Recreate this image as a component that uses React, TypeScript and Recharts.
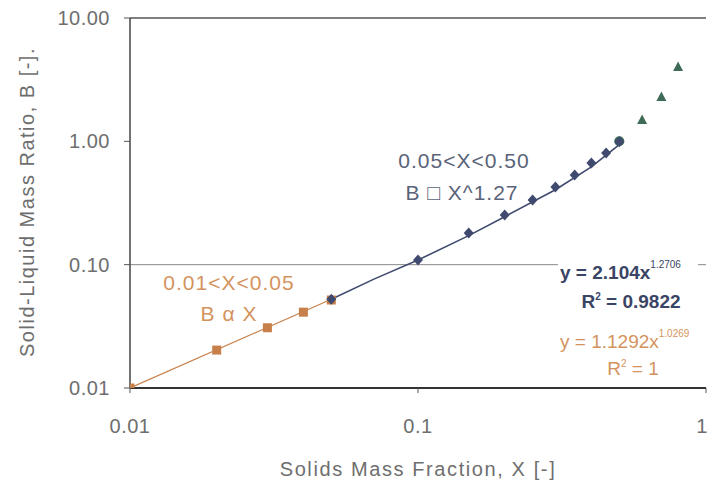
import { ScatterChart, Scatter, XAxis, YAxis, ReferenceLine } from 'recharts'

// solids mass fraction X vs solid-liquid mass ratio B
const lowX = [0.01, 0.02, 0.03, 0.04, 0.05]
const lowB = [0.0100, 0.0203, 0.0308, 0.0412, 0.0517]

const midX = [0.05, 0.1, 0.15, 0.2, 0.25, 0.3, 0.35, 0.4, 0.45, 0.5]
const midB = [0.0525, 0.109, 0.181, 0.253, 0.335, 0.427, 0.534, 0.668, 0.805, 0.99]

const highX = [0.6, 0.7, 0.8]
const highB = [1.49, 2.29, 4.01]

const edgeX = [0.5]
const edgeB = [1.0]

// trend lines
const lowTrendX = [0.01, 0.05]
const lowTrendB = [0.0100, 0.0525]
const midTrendX = [0.05, 0.07, 0.1, 0.15, 0.2, 0.3, 0.4, 0.5]
const midTrendB = [0.0525, 0.076, 0.109, 0.172, 0.245, 0.405, 0.62, 0.94]

const xTicks = [0.01, 0.1, 1]
const xTickLabels = ['0.01', '0.1', '1']
const yTicks = [0.01, 0.1, 1, 10]
const yTickLabels = ['0.01', '0.10', '1.00', '10.00']

const zip = (xs: number[], ys: number[]) => xs.map((x, i) => ({ x, y: ys[i] }))

const ORANGE = '#c8804a'
const BLUE = '#3f4a6e'
const GREEN = '#3e6b56'
const TICK = '#6e6e6e'
const FONT = 'Liberation Sans, Arial, sans-serif'

const square = (p: any) => <rect x={p.cx - 4.5} y={p.cy - 4.5} width={9} height={9} fill={ORANGE} />
const diamond = (p: any) => (
  <polygon points={`${p.cx},${p.cy - 5.5} ${p.cx + 5},${p.cy} ${p.cx},${p.cy + 5.5} ${p.cx - 5},${p.cy}`} fill={BLUE} />
)
const triangle = (p: any) => (
  <polygon points={`${p.cx},${p.cy - 5.5} ${p.cx + 5},${p.cy + 4} ${p.cx - 5},${p.cy + 4}`} fill={GREEN} />
)
const dot = (p: any) => <circle cx={p.cx} cy={p.cy} r={5} fill={GREEN} />
const none = () => <g />

const XTick = (p: any) => {
  const i = xTicks.indexOf(p.payload.value)
  const shift = i === xTicks.length - 1 ? -4 : 0
  return (
    <text x={p.x + shift} y={p.y} dy="0.71em" textAnchor="middle" fill={TICK} fontSize={20} fontFamily={FONT} letterSpacing={0.5}>
      {xTickLabels[i] ?? ''}
    </text>
  )
}

export default function App() {
  return (
    <div style={{ position: 'absolute', left: 0, top: 0, width: 709, height: 483, background: '#fff', fontFamily: FONT }}>
      <ScatterChart width={709} height={483} margin={{ top: 18, right: 3, left: 0, bottom: 0 }}>
        <XAxis
          type="number"
          dataKey="x"
          scale="log"
          domain={[0.01, 1]}
          ticks={xTicks}
          interval={0}
          allowDataOverflow
          height={95}
          tickSize={5}
          tickMargin={26}
          tick={XTick}
          axisLine={{ stroke: '#333', strokeWidth: 2 }}
          tickLine={{ stroke: '#555' }}
        />
        <YAxis
          type="number"
          dataKey="y"
          scale="log"
          domain={[0.01, 10]}
          ticks={yTicks}
          interval={0}
          allowDataOverflow
          width={130}
          tickSize={6}
          tickMargin={14}
          tickFormatter={(v: number) => yTickLabels[yTicks.indexOf(v)] ?? ''}
          tick={{ fill: TICK, fontSize: 20, fontFamily: FONT, letterSpacing: 0.5 }}
          axisLine={{ stroke: '#444', strokeWidth: 1.5 }}
          tickLine={{ stroke: '#555' }}
        />
        <ReferenceLine y={10} stroke="#555" strokeWidth={1.5} />
        <ReferenceLine y={0.1} stroke="#888" strokeWidth={1} />
        <Scatter data={zip(lowTrendX, lowTrendB)} line={{ stroke: ORANGE, strokeWidth: 1.2 }} shape={none} isAnimationActive={false} />
        <Scatter data={zip(midTrendX, midTrendB)} line={{ stroke: BLUE, strokeWidth: 1.6 }} shape={none} isAnimationActive={false} />
        <Scatter data={zip(lowX, lowB)} shape={square} isAnimationActive={false} />
        <Scatter data={zip(highX, highB)} shape={triangle} isAnimationActive={false} />
        <Scatter data={zip(edgeX, edgeB)} shape={dot} isAnimationActive={false} />
        <Scatter data={zip(midX, midB)} shape={diamond} isAnimationActive={false} />
      </ScatterChart>
      <svg width={709} height={483} style={{ position: 'absolute', left: 0, top: 0, pointerEvents: 'none' }}>
        <text x={418} y={476} textAnchor="middle" fill={TICK} fontSize={20} letterSpacing={1.6}>
          Solids Mass Fraction, X [-]
        </text>
        <text x={0} y={0} transform="translate(34,202) rotate(-90)" textAnchor="middle" fill={TICK} fontSize={20} letterSpacing={1.5}>
          Solid-Liquid Mass Ratio, B [-].
        </text>
        <text x={464} y={168} textAnchor="middle" fill="#5a6378" fontSize={21} letterSpacing={1}>0.05&lt;X&lt;0.50</text>
        <text x={462} y={200} textAnchor="middle" fill="#5a6378" fontSize={21} letterSpacing={1}>B □ X^1.27</text>
        <text x={229} y={290} textAnchor="middle" fill="#d4935e" fontSize={21} letterSpacing={1}>0.01&lt;X&lt;0.05</text>
        <text x={229} y={321} textAnchor="middle" fill="#d4935e" fontSize={21} letterSpacing={1}>B α X</text>
        <rect x={558} y={255} width={140} height={24} fill="#fff" />
        <text x={560} y={279} fill="#3a4565" fontSize={19} fontWeight="bold">
          y = 2.104x<tspan dy={-11} fontSize={10} fontWeight="normal">1.2706</tspan>
        </text>
        <text x={631} y={308} textAnchor="middle" fill="#3a4565" fontSize={19} fontWeight="bold">
          R<tspan dy={-8} fontSize={10}>2</tspan><tspan dy={8}> = 0.9822</tspan>
        </text>
        <text x={560} y={348} fill="#d4935e" fontSize={19}>
          y = 1.1292x<tspan dy={-11} fontSize={10}>1.0269</tspan>
        </text>
        <text x={633} y={375} textAnchor="middle" fill="#d4935e" fontSize={19}>
          R<tspan dy={-8} fontSize={10}>2</tspan><tspan dy={8}> = 1</tspan>
        </text>
      </svg>
    </div>
  )
}
